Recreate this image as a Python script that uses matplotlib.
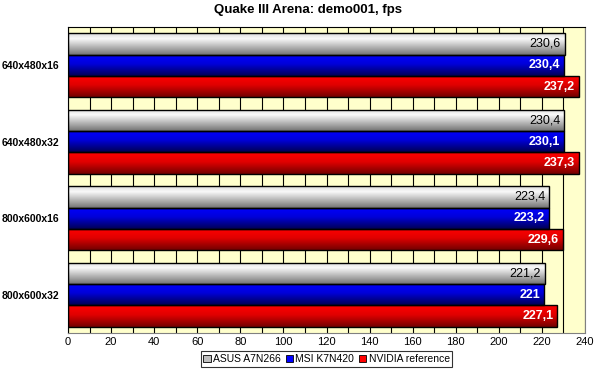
import numpy as np
import matplotlib
matplotlib.use("Agg")
import matplotlib.pyplot as plt
from matplotlib.patches import Patch

plt.rcParams["font.family"] = ["Liberation Sans", "DejaVu Sans"]

# Data
resolutions = ["640x480x16", "640x480x32", "800x600x16", "800x600x32"]
boards = ["ASUS A7N266", "MSI K7N420", "NVIDIA reference"]
asus = [230.6, 230.4, 223.4, 221.2]
msi = [230.4, 230.1, 223.2, 221.0]
nvidia = [237.2, 237.3, 229.6, 227.1]
value_text = [["230,6", "230,4", "223,4", "221,2"],
              ["230,4", "230,1", "223,2", "221"],
              ["237,2", "237,3", "229,6", "227,1"]]

series = [asus, msi, nvidia]
base_colors = ["#c0c0c0", "#0000ff", "#ff0000"]
label_colors = ["black", "white", "white"]


def gradient(kind):
    t = np.linspace(0, 1, 64)
    if kind == 0:  # gray: light top, white highlight, dark bottom
        v = np.interp(t, [0, 0.25, 1], [0.86, 0.98, 0.45])
        rgb = np.stack([v, v, v], axis=1)
    elif kind == 1:  # blue
        v = np.interp(t, [0, 0.45, 1], [1.0, 0.85, 0.33])
        rgb = np.stack([np.zeros_like(v), np.zeros_like(v), v], axis=1)
    else:  # red
        v = np.interp(t, [0, 0.45, 1], [1.0, 0.88, 0.45])
        rgb = np.stack([v, np.zeros_like(v), np.zeros_like(v)], axis=1)
    return rgb[:, None, :]


fig = plt.figure(figsize=(5.98, 3.77), dpi=100)
ax = fig.add_axes([68 / 598, 1 - 333 / 377, (585 - 68) / 598, (333 - 27) / 377])
ax.set_facecolor("#ffffcc")

y = np.arange(len(resolutions))
h = 0.28
offsets = [-h, 0, h]

for k, vals in enumerate(series):
    bars = ax.barh(y + offsets[k], vals, height=h, facecolor="none",
                   edgecolor="black", linewidth=1.0, zorder=3)
    for i, bar in enumerate(bars):
        x0, y0 = bar.get_x(), bar.get_y()
        w, hh = bar.get_width(), bar.get_height()
        im = ax.imshow(gradient(k), extent=(x0, x0 + w, y0 + hh, y0),
                       aspect="auto", zorder=2, interpolation="bilinear")
        im.set_clip_path(bar)
        ax.text(x0 + w - 1.8, y0 + hh / 2, value_text[k][i], ha="right",
                va="center", fontsize=9, color=label_colors[k],
                fontweight="bold" if k > 0 else "normal", zorder=4)

ax.set_xlim(0, 240)
ax.set_ylim(len(resolutions) - 0.5, -0.5)
ax.set_xticks(np.arange(0, 241, 20))
ax.set_xticks(np.arange(0, 241, 10), minor=True)
ax.xaxis.grid(True, which="both", color="black", linewidth=0.8, zorder=1)
ax.set_axisbelow(True)
ax.set_yticks(y)
ax.set_yticklabels(resolutions, fontsize=7.5, fontweight="bold")
ax.tick_params(axis="both", which="both", length=0)
ax.tick_params(axis="x", labelsize=8, pad=3)
ax.tick_params(axis="y", pad=6)
for s in ["top", "left"]:
    ax.spines[s].set_color("black")
for s in ["right", "bottom"]:
    ax.spines[s].set_color("#808080")

fig.text(0.515, 1 - 10 / 377, "Quake III Arena: demo001, fps", ha="center",
         va="center", fontsize=9.5, fontweight="semibold")

handles = [Patch(facecolor=c, edgecolor="black", linewidth=0.6) for c in base_colors]
leg = fig.legend(handles, boards, loc="center", bbox_to_anchor=(0.546, 0.048),
                 ncol=3, fontsize=7.5, frameon=True, fancybox=False,
                 handlelength=0.7, handleheight=0.7, handletextpad=0.2,
                 columnspacing=0.5, borderpad=0.25)
leg.get_frame().set_edgecolor("black")
leg.get_frame().set_linewidth(0.8)

plt.savefig("out.png", dpi=100)
